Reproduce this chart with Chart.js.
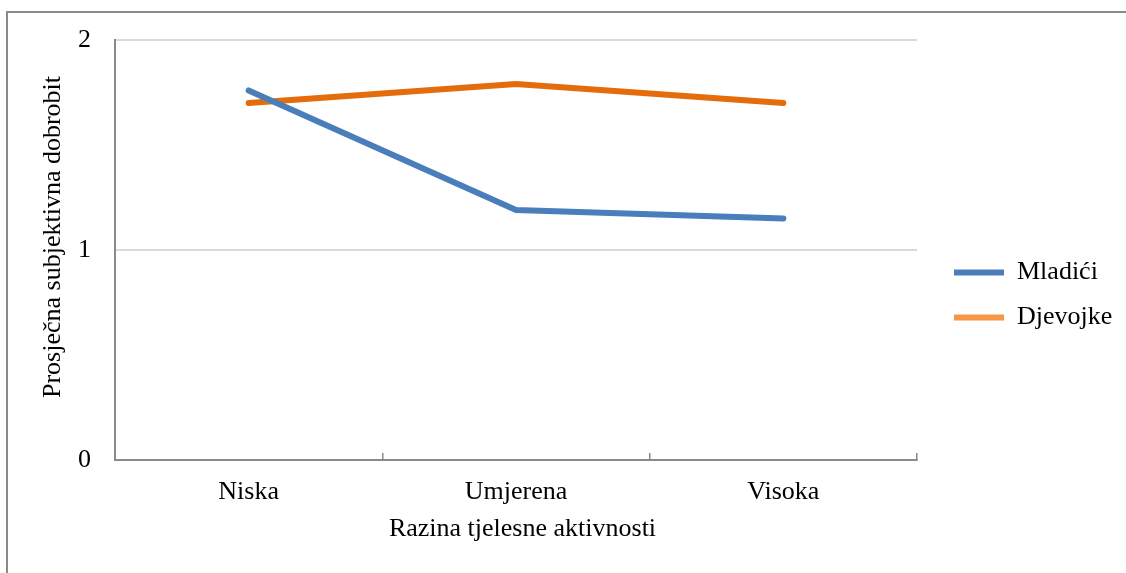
<!DOCTYPE html>
<html>
<head>
<meta charset="utf-8">
<script src="https://cdn.jsdelivr.net/npm/chart.js@4"></script>
<style>
  html, body { margin: 0; padding: 0; background: #fff; }
  #wrap { position: relative; width: 1126px; height: 573px; overflow: hidden; }
  #frame { position: absolute; left: 6px; top: 11px; width: 1200px; height: 700px;
           border-top: 2px solid #8a8a8a; border-left: 2px solid #8a8a8a; }
  #box { position: absolute; left: 0; top: 0; width: 1126px; height: 573px; }
</style>
</head>
<body>
<div id="wrap">
  <div id="frame"></div>
  <div id="box"><canvas id="chart"></canvas></div>
</div>
<script>
// chart data
const categories = ['Niska', 'Umjerena', 'Visoka'];
const mladici = [1.76, 1.19, 1.15];
const djevojke = [1.70, 1.79, 1.70];
const seriesNames = ['Mladići', 'Djevojke'];
const lineColors = ['#4a7ebb', '#e46c0a'];
const legendColors = ['#4a7ebb', '#f79646'];
const yMin = 0, yMax = 2, yStep = 1;

const serif = 'Liberation Serif, Times New Roman, serif';
const axisGray = '#8a8a8a';

new Chart(document.getElementById('chart'), {
    type: 'line',
    data: {
        labels: categories,
        datasets: [
            { label: seriesNames[0], data: mladici, borderColor: lineColors[0], backgroundColor: lineColors[0] },
            { label: seriesNames[1], data: djevojke, borderColor: lineColors[1], backgroundColor: lineColors[1] }
        ]
    },
    options: {
        responsive: true,
        maintainAspectRatio: false,
        animation: false,
        layout: { padding: { left: 0, top: 40, right: 4, bottom: 23 } },
        elements: {
            line: { borderWidth: 6, borderCapStyle: 'round', borderJoinStyle: 'miter', tension: 0 },
            point: { radius: 0, hoverRadius: 0 }
        },
        scales: {
            x: {
                offset: true,
                grid: { offset: true, drawOnChartArea: false, drawTicks: true, tickLength: -7, color: axisGray, lineWidth: 1.5 },
                border: { display: true, color: axisGray, width: 2 },
                ticks: { color: '#000', font: { family: serif, size: 26 }, padding: 24, maxRotation: 0 },
                title: { display: true, text: '  Razina tjelesne aktivnosti', color: '#000', font: { family: serif, size: 26 }, padding: { top: 2, bottom: 5 } },
                afterFit: function(scale) { scale.height = 90; }
            },
            y: {
                min: yMin,
                max: yMax,
                ticks: { stepSize: yStep, color: '#000', font: { family: serif, size: 26 }, padding: 24 },
                grid: {
                    drawTicks: false,
                    color: function(ctx) { return ctx.tick && ctx.tick.value > 0 ? '#d9d9d9' : 'rgba(0,0,0,0)'; },
                    lineWidth: 2
                },
                border: { display: true, color: axisGray, width: 2 },
                title: { display: true, text: '    Prosječna subjektivna dobrobit', color: '#000', font: { family: serif, size: 26 }, padding: { top: 38, bottom: 0 } },
                afterFit: function(scale) { scale.width = 115; }
            },
            // empty spacer between plot and legend
            gap: {
                position: 'right',
                display: true,
                grid: { display: false },
                border: { display: false },
                ticks: { display: false },
                afterFit: function(scale) { scale.width = 18; }
            }
        },
        plugins: {
            legend: {
                position: 'right',
                align: 'center',
                labels: {
                    color: '#000',
                    font: { family: serif, size: 26 },
                    boxWidth: 50,
                    boxHeight: 6,
                    useBorderRadius: true,
                    borderRadius: 3,
                    padding: 19,
                    generateLabels: function(chart) {
                        return chart.data.datasets.map(function(ds, i) {
                            return {
                                text: ds.label,
                                fillStyle: legendColors[i],
                                strokeStyle: legendColors[i],
                                lineWidth: 0,
                                hidden: false,
                                datasetIndex: i
                            };
                        });
                    }
                }
            },
            tooltip: { enabled: false }
        }
    }
});
</script>
</body>
</html>
